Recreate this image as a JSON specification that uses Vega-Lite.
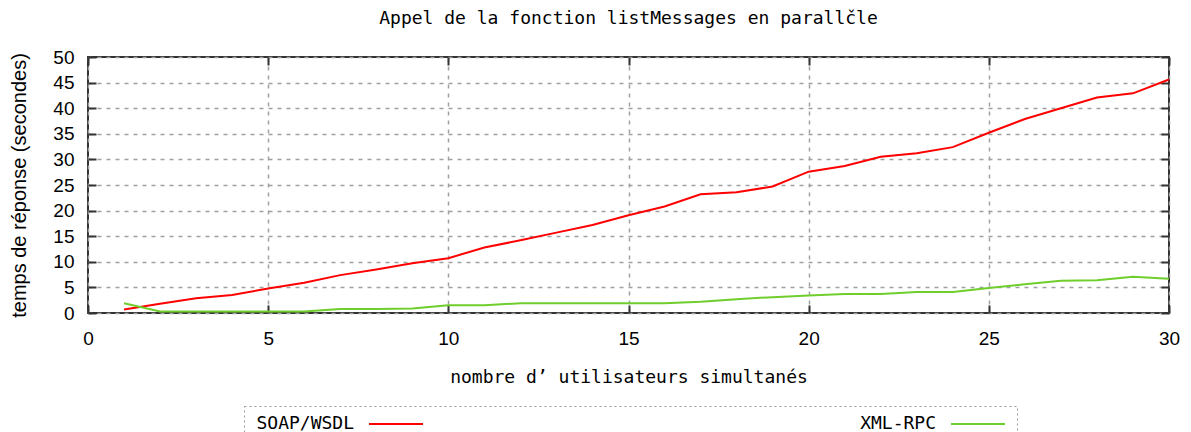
{
  "$schema": "https://vega.github.io/schema/vega-lite/v6.json",
  "width": 1081,
  "height": 256,
  "autosize": "none",
  "padding": {"left": 88, "top": 57, "right": 22, "bottom": 119},
  "background": "white",
  "title": {
    "text": "Appel de la fonction listMessages en parallčle",
    "font": "DejaVu Sans Mono",
    "fontSize": 18,
    "fontWeight": "normal",
    "color": "#000",
    "offset": 20,
    "anchor": "middle"
  },
  "data": {
    "values": [
      {"n": 1, "api": "SOAP/WSDL", "t": 0.7},
      {"n": 2, "api": "SOAP/WSDL", "t": 1.8},
      {"n": 3, "api": "SOAP/WSDL", "t": 2.9},
      {"n": 4, "api": "SOAP/WSDL", "t": 3.5},
      {"n": 5, "api": "SOAP/WSDL", "t": 4.8},
      {"n": 6, "api": "SOAP/WSDL", "t": 5.9},
      {"n": 7, "api": "SOAP/WSDL", "t": 7.4},
      {"n": 8, "api": "SOAP/WSDL", "t": 8.5},
      {"n": 9, "api": "SOAP/WSDL", "t": 9.7},
      {"n": 10, "api": "SOAP/WSDL", "t": 10.7},
      {"n": 11, "api": "SOAP/WSDL", "t": 12.8},
      {"n": 12, "api": "SOAP/WSDL", "t": 14.2},
      {"n": 13, "api": "SOAP/WSDL", "t": 15.7},
      {"n": 14, "api": "SOAP/WSDL", "t": 17.2},
      {"n": 15, "api": "SOAP/WSDL", "t": 19.1},
      {"n": 16, "api": "SOAP/WSDL", "t": 20.8},
      {"n": 17, "api": "SOAP/WSDL", "t": 23.2},
      {"n": 18, "api": "SOAP/WSDL", "t": 23.6},
      {"n": 19, "api": "SOAP/WSDL", "t": 24.7},
      {"n": 20, "api": "SOAP/WSDL", "t": 27.6},
      {"n": 21, "api": "SOAP/WSDL", "t": 28.7},
      {"n": 22, "api": "SOAP/WSDL", "t": 30.5},
      {"n": 23, "api": "SOAP/WSDL", "t": 31.2},
      {"n": 24, "api": "SOAP/WSDL", "t": 32.4},
      {"n": 25, "api": "SOAP/WSDL", "t": 35.2},
      {"n": 26, "api": "SOAP/WSDL", "t": 37.9},
      {"n": 27, "api": "SOAP/WSDL", "t": 40.0},
      {"n": 28, "api": "SOAP/WSDL", "t": 42.1},
      {"n": 29, "api": "SOAP/WSDL", "t": 42.9},
      {"n": 30, "api": "SOAP/WSDL", "t": 45.6},
      {"n": 1, "api": "XML-RPC", "t": 1.9},
      {"n": 2, "api": "XML-RPC", "t": 0.3},
      {"n": 3, "api": "XML-RPC", "t": 0.3},
      {"n": 4, "api": "XML-RPC", "t": 0.3},
      {"n": 5, "api": "XML-RPC", "t": 0.3},
      {"n": 6, "api": "XML-RPC", "t": 0.3},
      {"n": 7, "api": "XML-RPC", "t": 0.8},
      {"n": 8, "api": "XML-RPC", "t": 0.8},
      {"n": 9, "api": "XML-RPC", "t": 0.9},
      {"n": 10, "api": "XML-RPC", "t": 1.5},
      {"n": 11, "api": "XML-RPC", "t": 1.5},
      {"n": 12, "api": "XML-RPC", "t": 1.9},
      {"n": 13, "api": "XML-RPC", "t": 1.9},
      {"n": 14, "api": "XML-RPC", "t": 1.9},
      {"n": 15, "api": "XML-RPC", "t": 1.9},
      {"n": 16, "api": "XML-RPC", "t": 1.9},
      {"n": 17, "api": "XML-RPC", "t": 2.2},
      {"n": 18, "api": "XML-RPC", "t": 2.7},
      {"n": 19, "api": "XML-RPC", "t": 3.1},
      {"n": 20, "api": "XML-RPC", "t": 3.4},
      {"n": 21, "api": "XML-RPC", "t": 3.7},
      {"n": 22, "api": "XML-RPC", "t": 3.7},
      {"n": 23, "api": "XML-RPC", "t": 4.1},
      {"n": 24, "api": "XML-RPC", "t": 4.1},
      {"n": 25, "api": "XML-RPC", "t": 4.9},
      {"n": 26, "api": "XML-RPC", "t": 5.6},
      {"n": 27, "api": "XML-RPC", "t": 6.3},
      {"n": 28, "api": "XML-RPC", "t": 6.4},
      {"n": 29, "api": "XML-RPC", "t": 7.1},
      {"n": 30, "api": "XML-RPC", "t": 6.7}
    ]
  },
  "layer": [
    {
      "mark": {"type": "line", "strokeWidth": 2, "interpolate": "linear"},
      "encoding": {
        "x": {
          "field": "n", "type": "quantitative",
          "scale": {"domain": [0, 30], "nice": false, "zero": false},
          "axis": {
            "orient": "bottom",
            "values": [0, 5, 10, 15, 20, 25, 30],
            "title": "nombre d’ utilisateurs simultanés",
            "titleFont": "DejaVu Sans Mono",
            "titleFontSize": 18,
            "titleFontWeight": "normal",
            "titleColor": "#000",
            "titlePadding": 20,
            "labelFont": "Liberation Sans",
            "labelFontSize": 19,
            "labelColor": "#000",
            "labelPadding": 24,
            "labelFlush": false,
            "tickSize": -8,
            "tickWidth": 2,
            "tickColor": "#333",
            "domain": false,
            "grid": true,
            "gridColor": "#a0a0a0",
            "gridDash": [4, 5],
            "gridWidth": 1.5
          }
        },
        "y": {
          "field": "t", "type": "quantitative",
          "scale": {"domain": [0, 50], "nice": false},
          "axis": {
            "orient": "left",
            "values": [0, 5, 10, 15, 20, 25, 30, 35, 40, 45, 50],
            "title": "temps de réponse (secondes)",
            "titleFont": "Liberation Sans",
            "titleFontSize": 20,
            "titleFontWeight": "normal",
            "titleColor": "#000",
            "titlePadding": 23,
            "labelFont": "Liberation Sans",
            "labelFontSize": 19,
            "labelColor": "#000",
            "labelPadding": 22,
            "labelFlush": false,
            "tickSize": -8,
            "tickWidth": 2,
            "tickColor": "#333",
            "domain": false,
            "grid": true,
            "gridColor": "#a0a0a0",
            "gridDash": [4, 5],
            "gridWidth": 1.5
          }
        },
        "color": {
          "field": "api", "type": "nominal",
          "scale": {"domain": ["SOAP/WSDL", "XML-RPC"], "range": ["#ff0000", "#6fce2b"]},
          "legend": {
            "title": null,
            "orient": "none",
            "direction": "horizontal",
            "legendX": 156,
            "legendY": 349,
            "symbolType": "M-3,0H3",
            "symbolSize": 324,
            "symbolStrokeWidth": 2,
            "symbolFillColor": "transparent",
            "symbolOffset": 134,
            "labelAlign": "right",
            "labelOffset": -52,
            "labelFont": "DejaVu Sans Mono",
            "labelFontSize": 18,
            "labelColor": "#000",
            "columnPadding": 407,
            "padding": 8,
            "strokeColor": "#999",
            "encode": {"legend": {"update": {"strokeDash": {"value": [2, 3]}}}}
          }
        }
      }
    },
    {
      "mark": {"type": "line", "opacity": 0},
      "encoding": {
        "x": {
          "field": "n", "type": "quantitative",
          "axis": {
            "orient": "top",
            "values": [0, 5, 10, 15, 20, 25, 30],
            "title": null, "labels": false, "domain": false, "grid": false,
            "tickSize": -8, "tickWidth": 2, "tickColor": "#333"
          }
        },
        "y": {
          "field": "t", "type": "quantitative",
          "axis": {
            "orient": "right",
            "values": [0, 5, 10, 15, 20, 25, 30, 35, 40, 45, 50],
            "title": null, "labels": false, "domain": false, "grid": false,
            "tickSize": -8, "tickWidth": 2, "tickColor": "#333"
          }
        },
        "detail": {"field": "api"}
      }
    }
  ],
  "resolve": {"axis": {"x": "independent", "y": "independent"}},
  "config": {
    "view": {"stroke": "#333", "strokeWidth": 2}
  }
}
